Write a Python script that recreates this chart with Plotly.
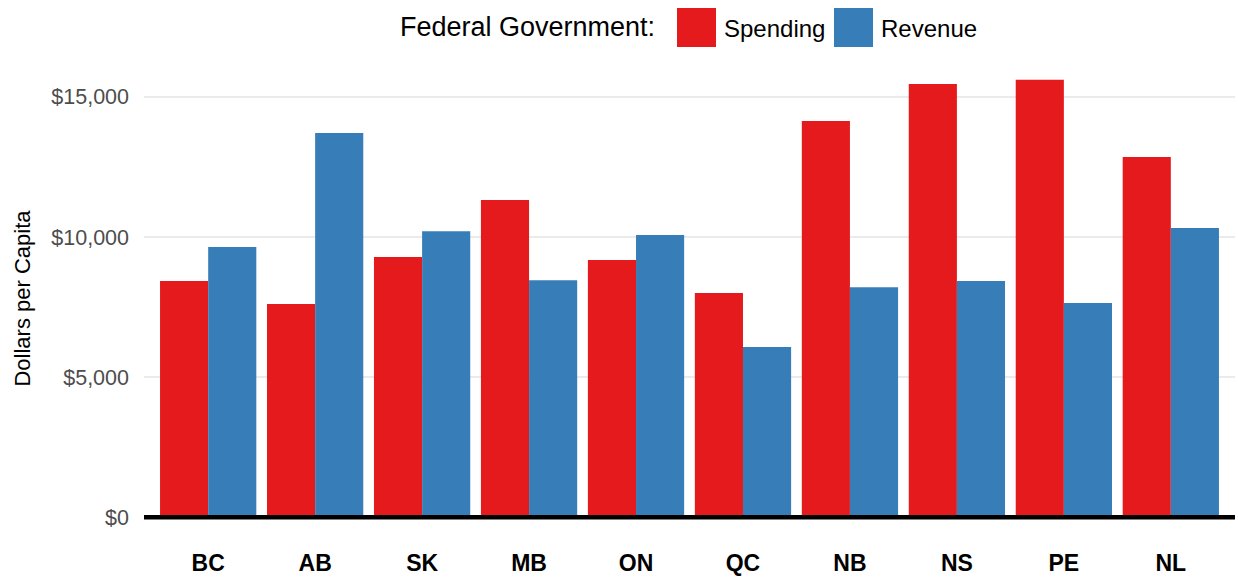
import plotly.graph_objects as go

provinces = ["BC", "AB", "SK", "MB", "ON", "QC", "NB", "NS", "PE", "NL"]
spending = [8430, 7610, 9290, 11320, 9180, 8000, 14140, 15460, 15610, 12860]
revenue = [9640, 13710, 10210, 8460, 10070, 6070, 8210, 8430, 7640, 10320]
tick_vals = [0, 5000, 10000, 15000]
tick_text = ["$0", "$5,000", "$10,000", "$15,000"]
series_names = ["Spending", "Revenue"]
series_colors = ["#E41A1C", "#377EB8"]

W, H = 1238, 577
ML, MR, MT, MB = 144, 3, 58, 38
PW, PH = W - ML - MR, H - MT - MB


def px(x):
    return (x - ML) / PW


def py(y):
    return (H - MB - y) / PH


FONT = "Liberation Sans, Arial, Helvetica, sans-serif"

fig = go.Figure()
for name, vals, col in zip(series_names, [spending, revenue], series_colors):
    fig.add_trace(go.Bar(x=provinces, y=vals, name=name, marker_color=col,
                         marker_line_width=0, showlegend=False, hoverinfo="skip"))

fig.add_hline(y=0, line_color="black", line_width=4.5)

# custom legend (large square keys as in the reference)
fig.add_annotation(text="Federal Government:", xref="paper", yref="paper",
                   x=px(657), y=py(27), xanchor="right", yanchor="middle",
                   showarrow=False, font=dict(size=27, color="black", family=FONT))
key_left = [677, 834]
for name, col, kx in zip(series_names, series_colors, key_left):
    fig.add_shape(type="rect", xref="paper", yref="paper",
                  x0=px(kx), x1=px(kx + 39), y0=py(47), y1=py(8),
                  fillcolor=col, line_width=0)
    fig.add_annotation(text=name, xref="paper", yref="paper",
                       x=px(kx + 45), y=py(28), xanchor="left", yanchor="middle",
                       showarrow=False, font=dict(size=24, color="black", family=FONT))

fig.update_layout(
    width=W, height=H,
    barmode="group", bargap=0.1, bargroupgap=0,
    plot_bgcolor="white", paper_bgcolor="white",
    font=dict(family=FONT, color="black"),
    margin=dict(l=ML, r=MR, t=MT, b=MB, autoexpand=False),
    showlegend=False,
    xaxis=dict(
        range=[-0.6, 9.6], showgrid=False, ticks="", automargin=False,
        tickfont=dict(size=23, color="black", family=FONT, weight="bold"),
        zeroline=False, ticklabelstandoff=8,
    ),
    yaxis=dict(
        range=[-780, 16390], tickvals=tick_vals, ticktext=tick_text, automargin=False,
        showgrid=True, gridcolor="#EBEBEB", gridwidth=2, zeroline=False,
        tickfont=dict(size=21.5, color="#4D4D4D", family=FONT), ticks="",
        ticklabelstandoff=14,
        title=dict(text="Dollars per Capita", font=dict(size=22, color="black", family=FONT), standoff=14),
    ),
)

fig.write_html("out.html", config={"displayModeBar": False},
               post_script="document.body.style.margin='0';")
